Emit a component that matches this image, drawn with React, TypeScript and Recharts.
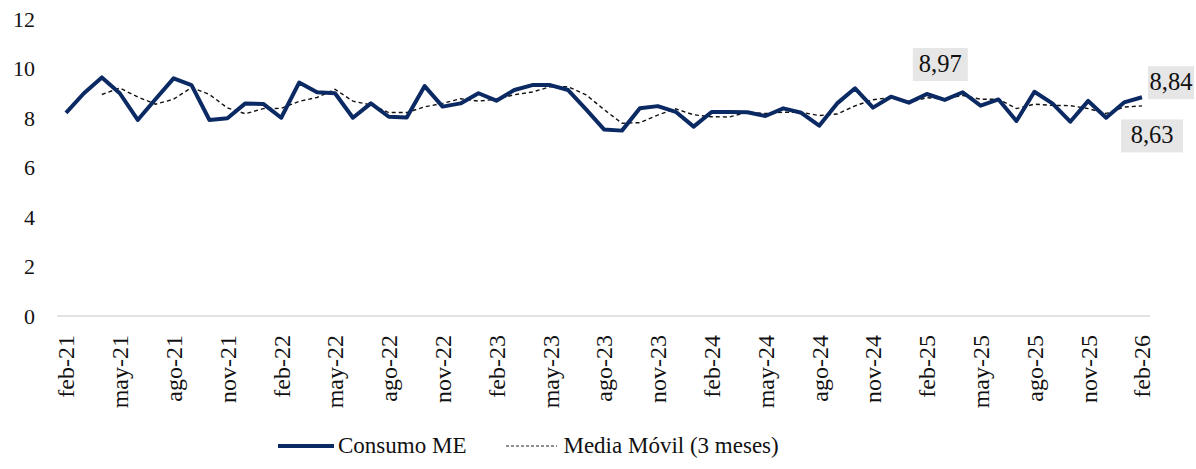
import React from 'react';
import { LineChart, Line, XAxis, YAxis, Legend, LabelList } from 'recharts';

// Meses (feb-21 a feb-26)
const months = [
  'feb-21', 'mar-21', 'abr-21', 'may-21', 'jun-21', 'jul-21', 'ago-21', 'sep-21', 'oct-21', 'nov-21', 'dic-21',
  'ene-22', 'feb-22', 'mar-22', 'abr-22', 'may-22', 'jun-22', 'jul-22', 'ago-22', 'sep-22', 'oct-22', 'nov-22', 'dic-22',
  'ene-23', 'feb-23', 'mar-23', 'abr-23', 'may-23', 'jun-23', 'jul-23', 'ago-23', 'sep-23', 'oct-23', 'nov-23', 'dic-23',
  'ene-24', 'feb-24', 'mar-24', 'abr-24', 'may-24', 'jun-24', 'jul-24', 'ago-24', 'sep-24', 'oct-24', 'nov-24', 'dic-24',
  'ene-25', 'feb-25', 'mar-25', 'abr-25', 'may-25', 'jun-25', 'jul-25', 'ago-25', 'sep-25', 'oct-25', 'nov-25', 'dic-25',
  'ene-26', 'feb-26',
];

const consumo = [
  8.21, 9.0, 9.64, 9.0, 7.92, 8.77, 9.6, 9.33, 7.92, 7.99, 8.59,
  8.57, 8.01, 9.43, 9.04, 9.0, 8.01, 8.59, 8.05, 8.02, 9.29, 8.46, 8.59,
  9.0, 8.7, 9.13, 9.33, 9.33, 9.13, 8.35, 7.54, 7.49, 8.39, 8.48, 8.25,
  7.65, 8.24, 8.24, 8.23, 8.08, 8.39, 8.21, 7.69, 8.59, 9.2, 8.42, 8.86,
  8.62, 8.97, 8.73, 9.04, 8.5, 8.75, 7.88, 9.06, 8.59, 7.85, 8.69, 8.01,
  8.63, 8.84,
];

const mediaMovil = [
  null, null, 8.95, 9.21, 8.85, 8.56, 8.76, 9.23, 8.95, 8.41, 8.17,
  8.38, 8.39, 8.67, 8.83, 9.16, 8.68, 8.53, 8.22, 8.22, 8.45, 8.59, 8.78,
  8.68, 8.76, 8.94, 9.05, 9.26, 9.26, 8.94, 8.34, 7.79, 7.81, 8.12, 8.37,
  8.13, 8.05, 8.04, 8.24, 8.18, 8.23, 8.23, 8.1, 8.16, 8.49, 8.74, 8.83,
  8.63, 8.82, 8.77, 8.91, 8.76, 8.76, 8.38, 8.56, 8.51, 8.5, 8.38, 8.18,
  8.44, 8.49,
];

const yTicks = [0, 2, 4, 6, 8, 10, 12];
const labeledMonths = ['feb-25', 'ene-26', 'feb-26'];

const data = months.map((m, i) => ({ mes: m, consumo: consumo[i], media: mediaMovil[i] }));

const FONT = "'Liberation Serif', 'DejaVu Serif', serif";
const NAVY = '#0b2a63';

// posición de cada etiqueta respecto al punto
const labelPlacement: Record<string, { dx: number; dy: number; w: number }> = {
  'feb-25': { dx: -14, dy: -46, w: 55 },
  'ene-26': { dx: -3, dy: 17, w: 62 },
  'feb-26': { dx: 6, dy: -31, w: 46 },
};

const ValueLabel = (props: any) => {
  const { x, y, value, index } = props;
  const mes = months[index];
  if (!labeledMonths.includes(mes)) return null;
  const p = labelPlacement[mes];
  const left = x + p.dx;
  const top = y + p.dy;
  return (
    <g>
      <rect x={left} y={top} width={p.w} height={33} fill="#e6e6e6" />
      <text x={left + p.w / 2} y={top + 24} textAnchor="middle" style={{ fontFamily: FONT, fontSize: 24.5 }} fill="#111">
        {value.toFixed(2).replace('.', ',')}
      </text>
    </g>
  );
};

const MonthTick = (props: any) => {
  const { x, y, payload } = props;
  return (
    <g transform={`translate(${x},${y + 19})`}>
      <text transform="rotate(-90)" textAnchor="end" dy="0.35em" style={{ fontFamily: FONT, fontSize: 24 }} fill="#111">
        {payload.value}
      </text>
    </g>
  );
};

const ChartLegend = () => (
  <div style={{ display: 'flex', alignItems: 'center', marginLeft: 278, fontFamily: FONT, fontSize: 23, color: '#111' }}>
    <svg width={56} height={10} style={{ marginRight: 4 }}>
      <line x1={0} y1={5} x2={56} y2={5} stroke={NAVY} strokeWidth={4} />
    </svg>
    <span>Consumo ME</span>
    <svg width={51} height={10} style={{ marginLeft: 40, marginRight: 6 }}>
      <line x1={0} y1={5} x2={51} y2={5} stroke="#222" strokeWidth={1.2} strokeDasharray="3 2" />
    </svg>
    <span>Media Móvil (3 meses)</span>
  </div>
);

export default function App() {
  return (
    <div style={{ position: 'absolute', left: 0, top: 0, background: '#fff', fontFamily: FONT }}>
      <LineChart width={1196} height={469} data={data} margin={{ top: 19, right: 46, left: 0, bottom: 0 }}>
        <XAxis
          dataKey="mes"
          interval={2}
          tickLine={false}
          tickSize={0}
          tickMargin={0}
          axisLine={{ stroke: '#d9d9d9', strokeWidth: 1.5 }}
          tick={<MonthTick />}
          height={117}
          padding={{ left: 9, right: 8 }}
        />
        <YAxis
          domain={[0, 12]}
          ticks={yTicks}
          axisLine={false}
          tickLine={false}
          tickSize={0}
          tickMargin={22}
          width={57}
          tick={{ fill: '#111', fontSize: 22, style: { fontFamily: FONT } }}
        />
        <Legend verticalAlign="bottom" height={36} content={<ChartLegend />} />
        <Line
          type="linear"
          dataKey="media"
          name="Media Móvil (3 meses)"
          stroke="#111"
          strokeWidth={1.4}
          strokeDasharray="4 3"
          dot={false}
          isAnimationActive={false}
        />
        <Line
          type="linear"
          dataKey="consumo"
          name="Consumo ME"
          stroke={NAVY}
          strokeWidth={4}
          strokeLinejoin="round"
          dot={false}
          isAnimationActive={false}
        >
          <LabelList dataKey="consumo" content={<ValueLabel />} />
        </Line>
      </LineChart>
    </div>
  );
}
